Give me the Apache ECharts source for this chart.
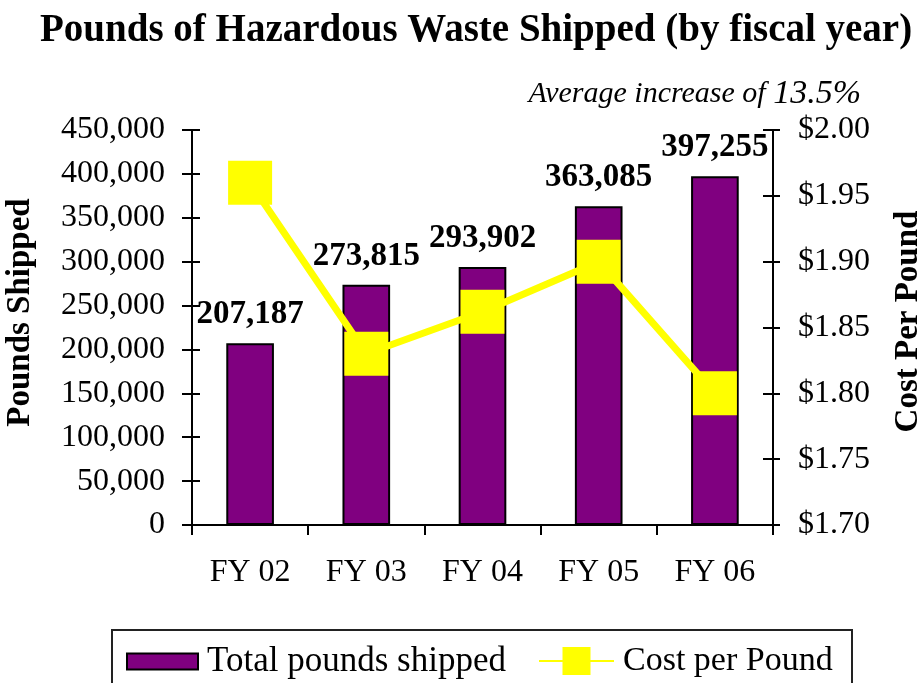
<!DOCTYPE html>
<html>
<head>
<meta charset="utf-8">
<script src="https://cdn.jsdelivr.net/npm/echarts@6/dist/echarts.min.js"></script>
<style>
  html, body { margin: 0; padding: 0; background: #fff; }
  #chart { width: 920px; height: 683px; }
</style>
</head>
<body>
<div id="chart"></div>
<script>
var years = ["FY 02", "FY 03", "FY 04", "FY 05", "FY 06"];
var pounds = [207187, 273815, 293902, 363085, 397255];
var costPerPound = [1.96, 1.83, 1.862, 1.90, 1.80];
var poundTicks = [0, 450000, 50000];
var costTicks = [1.70, 2.00, 0.05];

var chartDom = document.getElementById("chart");
var myChart = echarts.init(chartDom);
var serif = "Liberation Serif";

var gridBox = { left: 192, right: 147, top: 130, bottom: 158, containLabel: false, outerBoundsMode: "none" };

// tick marks only, used to make the ticks cross the axis lines
function tickAxis(pos, minMax, inside, len) {
  return {
    type: "value",
    gridIndex: 1,
    position: pos,
    min: minMax[0],
    max: minMax[1],
    interval: minMax[2],
    splitLine: { show: false },
    axisLine: { show: false },
    axisLabel: { show: false },
    axisTick: { show: true, inside: inside, length: len, lineStyle: { color: "#000", width: 2 } },
  };
}

var option = {
  backgroundColor: "#fff",
  animation: false,
  textStyle: { fontFamily: serif, color: "#000" },
  title: [
    {
      text: "Pounds of Hazardous Waste Shipped (by fiscal year)",
      left: 35,
      top: 6,
      textStyle: { fontFamily: serif, fontSize: 39, fontWeight: "bold", color: "#000" },
    },
    {
      text: "{a|Average increase of }{b|13.5%}",
      right: 54,
      top: 72,
      textStyle: {
        rich: {
          a: { fontFamily: serif, fontSize: 30, fontStyle: "italic", fontWeight: "normal", color: "#000" },
          b: { fontFamily: serif, fontSize: 34, fontStyle: "italic", fontWeight: "normal", color: "#000" },
        },
      },
    },
  ],
  graphic: [
    {
      type: "rect",
      shape: { x: 112, y: 630, width: 740, height: 70 },
      style: { fill: "none", stroke: "#222", lineWidth: 2 },
      silent: true,
    },
  ],
  legend: [
    {
      left: 126,
      top: 644,
      padding: 0,
      itemWidth: 71,
      itemHeight: 16,
      textStyle: { fontFamily: serif, fontSize: 35, color: "#000", padding: [0, 0, 0, 4] },
      data: [{ name: "Total pounds shipped", icon: "rect" }],
    },
    {
      left: 538,
      top: 644,
      padding: 0,
      itemWidth: 75,
      itemHeight: 35,
      textStyle: { fontFamily: serif, fontSize: 34, color: "#000", padding: [0, 0, 0, 4] },
      data: [{ name: "Cost per Pound", lineStyle: { width: 2 } }],
    },
  ],
  grid: [Object.assign({}, gridBox), Object.assign({}, gridBox)],
  xAxis: [
    {
      type: "category",
      data: years,
      axisLine: { lineStyle: { color: "#000", width: 2 } },
      axisTick: { show: true, length: 10, lineStyle: { color: "#000", width: 2 } },
      axisLabel: { fontFamily: serif, fontSize: 32, color: "#000", margin: 32 },
    },
    {
      type: "category",
      gridIndex: 1,
      data: years,
      show: false,
    },
  ],
  yAxis: [
    {
      type: "value",
      name: "Pounds Shipped",
      nameLocation: "middle",
      nameGap: 155,
      nameRotate: 90,
      nameTextStyle: { fontFamily: serif, fontSize: 33, fontWeight: "bold", color: "#000", padding: [0, 0, 0, 30] },
      min: poundTicks[0],
      max: poundTicks[1],
      interval: poundTicks[2],
      splitLine: { show: false },
      axisLine: { show: true, lineStyle: { color: "#000", width: 2 } },
      axisTick: { show: true, length: 10, lineStyle: { color: "#000", width: 2 } },
      axisLabel: {
        fontFamily: serif,
        fontSize: 32,
        color: "#000",
        margin: 27,
        formatter: function (v) {
          return v.toLocaleString("en-US");
        },
      },
    },
    {
      type: "value",
      name: "Cost Per Pound",
      nameLocation: "middle",
      nameGap: 119,
      nameRotate: 90,
      nameTextStyle: { fontFamily: serif, fontSize: 33, fontWeight: "bold", color: "#000", padding: [0, 0, 0, 12] },
      min: costTicks[0],
      max: costTicks[1],
      interval: costTicks[2],
      splitLine: { show: false },
      axisLine: { show: true, lineStyle: { color: "#000", width: 2 } },
      axisTick: { show: true, length: 10, inside: true, lineStyle: { color: "#000", width: 2 } },
      axisLabel: {
        fontFamily: serif,
        fontSize: 32,
        color: "#000",
        margin: 25,
        formatter: function (v) {
          return "$" + v.toFixed(2);
        },
      },
    },
    tickAxis("left", poundTicks, true, 8),
    tickAxis("right", costTicks, false, 7),
  ],
  series: [
    {
      name: "Total pounds shipped",
      type: "bar",
      yAxisIndex: 0,
      barWidth: "41%",
      data: pounds,
      itemStyle: { color: "#800080", borderColor: "#000", borderWidth: 2 },
      label: {
        show: true,
        position: "top",
        distance: 12,
        fontFamily: serif,
        fontSize: 33,
        fontWeight: "bold",
        color: "#000",
        formatter: function (p) {
          return p.value.toLocaleString("en-US");
        },
      },
      z: 2,
    },
    {
      name: "Cost per Pound",
      type: "line",
      yAxisIndex: 1,
      data: costPerPound,
      symbol: "rect",
      symbolSize: 44,
      lineStyle: { color: "#ffff00", width: 7 },
      itemStyle: { color: "#ffff00", borderWidth: 0 },
      z: 3,
    },
  ],
};

option && myChart.setOption(option);
</script>
</body>
</html>
